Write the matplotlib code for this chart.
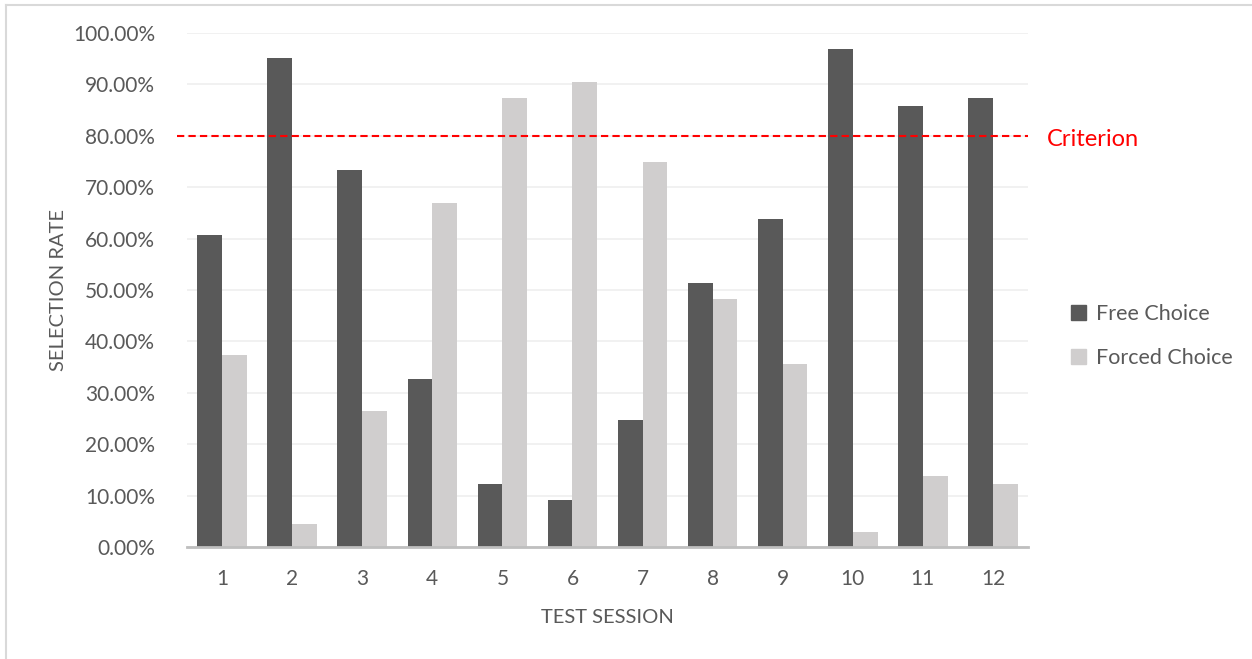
import matplotlib
matplotlib.use('Agg')
import matplotlib.pyplot as plt
from matplotlib.lines import Line2D
from matplotlib.patches import Patch
import numpy as np

sessions = ['1', '2', '3', '4', '5', '6', '7', '8', '9', '10', '11', '12']
free_choice = [0.607, 0.952, 0.734, 0.326, 0.122, 0.091, 0.248, 0.514, 0.639, 0.968, 0.858, 0.874]
forced_choice = [0.373, 0.045, 0.264, 0.670, 0.874, 0.905, 0.749, 0.483, 0.357, 0.029, 0.139, 0.123]
criterion = 0.80

dark = '#595959'
light = '#d0cece'
txt = '#595959'

plt.rcParams['font.family'] = ['Lato', 'DejaVu Sans']

fig = plt.figure(figsize=(12.52, 6.59), dpi=100)
ax = fig.add_axes([187/1252, 1 - 547/659, (1028 - 187)/1252, (547 - 33)/659])

x = np.arange(1, len(sessions) + 1)
w = 0.353
ax.bar(x - w/2, free_choice, w, color=dark, zorder=3)
ax.bar(x + w/2, forced_choice, w, color=light, zorder=3)

ax.set_xlim(0.5, 12.5)
ax.set_ylim(0, 1.0)
ax.set_yticks(np.arange(0, 1.01, 0.1))
ax.set_yticklabels([f'{v*100:.2f}%' for v in np.arange(0, 1.01, 0.1)])
ax.set_xticks(x)
ax.set_xticklabels(sessions)
ax.grid(axis='y', color='#f0f0f0', lw=1.3, zorder=0)
ax.tick_params(length=0, labelsize=15, colors=txt)
ax.tick_params(axis='y', pad=23)
ax.tick_params(axis='x', pad=16)
for s in ['top', 'right', 'left']:
    ax.spines[s].set_visible(False)
ax.spines['bottom'].set_color('#bfbfbf')
ax.spines['bottom'].set_linewidth(2)
ax.spines['bottom'].set_zorder(4)

ax.set_ylabel('SELECTION RATE', fontsize=14.5, color=txt, labelpad=4)
ax.set_xlabel('TEST SESSION', fontsize=14.5, color=txt, labelpad=14)

# criterion line, starts a little left of the plot area
trans = ax.get_yaxis_transform()
ax.add_line(Line2D([-0.012, 1.0], [criterion, criterion], transform=trans, color='#ff0000',
                   lw=1.5, dashes=(3.5, 2), clip_on=False, zorder=5))
fig.text(1047/1252, 1 - 140/659, 'Criterion', color='#ff0000', fontsize=17, va='center', ha='left')

handles = [Patch(color=dark, label='Free Choice'), Patch(color=light, label='Forced Choice')]
leg = fig.legend(handles=handles, loc='center left', bbox_to_anchor=(1052/1252, 1 - 336/659),
                 frameon=False, fontsize=15.5, handlelength=0.7, handleheight=0.7,
                 handletextpad=0.45, labelspacing=1.1, labelcolor=txt)

# outer chart border (top and left visible)
fig.add_artist(Line2D([6/1252, 1], [1 - 5/659, 1 - 5/659], color='#d9d9d9', lw=1.5))
fig.add_artist(Line2D([6/1252, 6/1252], [0, 1 - 5/659], color='#d9d9d9', lw=1.5))

fig.savefig('out.png', dpi=100)
